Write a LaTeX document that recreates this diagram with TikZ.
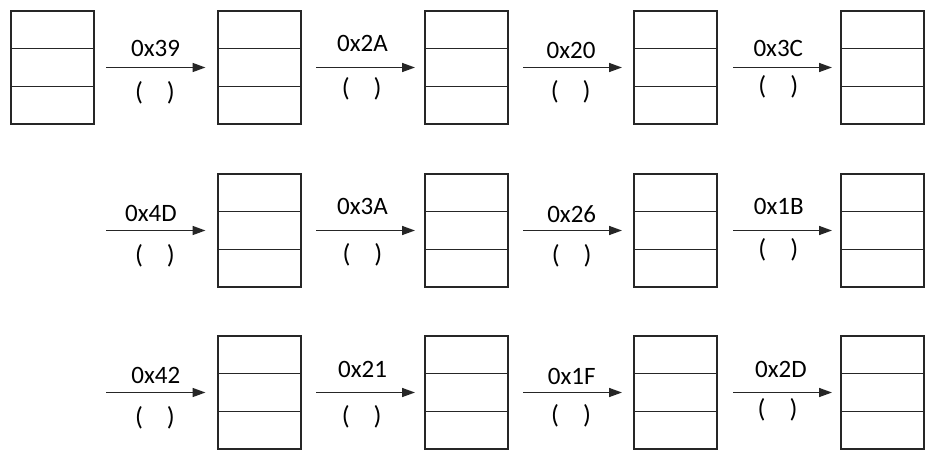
\documentclass[tikz,border=0pt]{standalone}
\usepackage{fontspec}
\setmainfont{Carlito}
\usetikzlibrary{arrows.meta}
\begin{document}
\begin{tikzpicture}[x=1pt,y=-1pt,
  regbox/.style={draw=black!85, line width=1.3pt, minimum width=83pt, minimum height=113pt, inner sep=0pt, outer sep=0pt, anchor=north west},
  divline/.style={draw=black!85, line width=1.25pt},
  arr/.style={draw=black!85, line width=1.5pt, -{Triangle[length=13pt,width=9pt]}},
  lbl/.style={inner sep=0pt, font=\fontsize{25}{29}\selectfont, text=black},
  par/.style={inner sep=0pt, font=\fontsize{26}{30}\selectfont, text=black}]
\useasboundingbox (0,0) rectangle (936,458);
% boxes
\node[regbox] (b11) at (11,11) {};
\foreach \r/\t in {1/11,2/174,3/336}{
  \foreach \c/\l in {2/218,3/425,4/634,5/841}{
    \node[regbox] (b\r\c) at (\l,\t) {};
  }
}
\foreach \n in {11,12,13,14,15,22,23,24,25,32,33,34,35}{
  \draw[divline] ([yshift=-37.5pt]b\n.north west) -- ([yshift=-37.5pt]b\n.north east);
  \draw[divline] ([yshift=37.5pt]b\n.south west) -- ([yshift=37.5pt]b\n.south east);
}
\coordinate (s2) at ([xshift=-112pt]b22.west);
\coordinate (s3) at ([xshift=-112pt]b32.west);
% arrows
\draw[arr, shorten <=12pt, shorten >=12.5pt] (b11.east) -- (b12.west);
\draw[arr, shorten <=15pt, shorten >=10pt] (b12.east) -- (b13.west);
\draw[arr, shorten <=15pt, shorten >=12pt] (b13.east) -- (b14.west);
\draw[arr, shorten <=16pt, shorten >=9pt] (b14.east) -- (b15.west);
\draw[arr, shorten >=12.5pt] (s2) -- (b22.west);
\draw[arr, shorten <=15pt, shorten >=10pt] (b22.east) -- (b23.west);
\draw[arr, shorten <=15pt, shorten >=12pt] (b23.east) -- (b24.west);
\draw[arr, shorten <=16pt, shorten >=9pt] (b24.east) -- (b25.west);
\draw[arr, shorten >=12.5pt] (s3) -- (b32.west);
\draw[arr, shorten <=15pt, shorten >=10pt] (b32.east) -- (b33.west);
\draw[arr, shorten <=15pt, shorten >=12pt] (b33.east) -- (b34.west);
\draw[arr, shorten <=16pt, shorten >=9pt] (b34.east) -- (b35.west);
% labels row 1
\node[lbl] (l11) at (155.5,48.7) {0x39};
\node[par] (p11) at (155,92.5) {(\hspace{24pt})};
\node[lbl] (l12) at (362.5,43.5) {0x2A};
\node[par] (p12) at (361.7,89) {(\hspace{24pt})};
\node[lbl] (l13) at (571,50) {0x20};
\node[par] (p13) at (570.7,92) {(\hspace{24pt})};
\node[lbl] (l14) at (778.3,48.3) {0x3C};
\node[par] (p14) at (778.3,87) {(\hspace{24pt})};
% labels row 2
\node[lbl] (l21) at (151,213.7) {0x4D};
\node[par] (p21) at (155,256) {(\hspace{24pt})};
\node[lbl] (l22) at (362.5,206.5) {0x3A};
\node[par] (p22) at (362.5,255) {(\hspace{24pt})};
\node[lbl] (l23) at (571.7,214) {0x26};
\node[par] (p23) at (571.7,256) {(\hspace{24pt})};
\node[lbl] (l24) at (778.7,206.7) {0x1B};
\node[par] (p24) at (778.3,250) {(\hspace{24pt})};
% labels row 3
\node[lbl] (l31) at (155.8,375.3) {0x42};
\node[par] (p31) at (155,417.7) {(\hspace{24pt})};
\node[lbl] (l32) at (362.5,369.7) {0x21};
\node[par] (p32) at (361.7,416.7) {(\hspace{24pt})};
\node[lbl] (l33) at (571.7,376.7) {0x1F};
\node[par] (p33) at (571,416) {(\hspace{24pt})};
\node[lbl] (l34) at (781,369.7) {0x2D};
\node[par] (p34) at (777.5,410) {(\hspace{24pt})};
\end{tikzpicture}
\end{document}
